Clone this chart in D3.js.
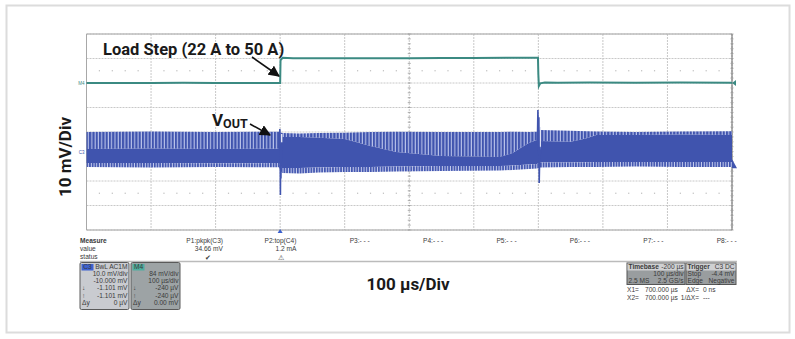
<!DOCTYPE html>
<html><head><meta charset="utf-8">
<script src="https://cdn.jsdelivr.net/npm/d3@7"></script>
<style>
html,body{margin:0;padding:0;background:#fff;}
svg{display:block;}
.sm{font-family:"Liberation Sans",Arial,sans-serif;font-size:6.6px;fill:#3a3a3a;}
.big{font-family:Roboto,"Noto Sans",sans-serif;font-weight:700;fill:#1a1a1a;}
</style></head><body>
<svg id="c" width="795" height="339"></svg>
<script>
// ---------- data ----------
const timeDomain = [-300, 700];          // µs, 100 µs/div, 10 div
const voltDomain = [-40, 40];            // mV, 10 mV/div, 8 div (display)
const ampDomain  = [-146, 78];           // A (load current trace M4)

// load current (A) vs time (µs)
const loadT = [-300, -250, -200, -150, -100, -50, -1, 0, 0.6, 4, 20, 60, 100, 150, 200, 250, 300, 350, 399.4, 400, 400.8, 403, 410, 430, 480, 550, 620, 700];
const loadA = [22, 22.1, 21.9, 22.2, 22.0, 22.1, 22.0, 22.0, 48.0, 50.9, 50.4, 50.2, 50.3, 50.2, 50.4, 50.6, 50.7, 50.8, 50.9, 32.0, 18.6, 21.6, 22.6, 22.4, 22.5, 22.4, 22.6, 22.3];

// VOUT envelope (mV, relative to screen centre) vs time (µs)
const vT       = [-300, -200, -100, -2, 3, 30, 60, 100, 140, 180, 250, 340, 360, 385, 398, 402, 450, 475, 490, 550, 620, 700];
const vUpper   = [0, 0.2, 0, 0.1, -0.4, -0.6, -0.4, -0.3, 0, 0.1, 0, 0, 0.1, 0, 0.1, 0.8, 0.5, 0.3, 0.2, 0, 0.2, 0.3];
const vCoreTop = [-6.9, -6.7, -6.9, -6.8, -2.0, -2.0, -2.3, -2.9, -5.7, -8.2, -9.8, -10.2, -8.6, -4.5, -3.3, -3.7, -4.0, -2.5, -1.2, -1.2, -1.0, -1.2];
const vCoreBot = [-12.7, -12.7, -12.8, -12.7, -14.7, -14.7, -14.5, -14.3, -14.3, -14.1, -13.9, -13.9, -13.7, -13.3, -13.1, -12.4, -12.4, -12.3, -12.2, -12.2, -12.2, -12.2];
const vLower   = [-14.3, -14.5, -14.3, -14.4, -16.7, -16.9, -16.5, -16.3, -16.3, -16.1, -15.9, -15.7, -15.5, -15.1, -14.9, -14.5, -14.3, -14.3, -14.3, -14.1, -14.3, -14.3];

// transient spikes at load step and load release
const stepT  = [-1.5, -0.5, 0, 0.4, 0.8, 1.2, 1.8, 2.6];
const stepV  = [-7, 1.2, -6, -25.7, -10, -19, -6, -12];
const relT   = [398.5, 399.3, 399.8, 400.3, 400.8, 401.3, 401.8, 402.5, 403.3];
const relV   = [-5, 9.0, 3, -9, 6, -20.8, -14, -6, -9];
const gapT   = [2.2, 402.8];
const gapTop = [-0.8, 2.0];
const gapBot = [-4.2, -7.5];

// measurement panel
const measHead  = ["P1:pkpk(C3)", "P2:top(C4)", "P3:- - -", "P4:- - -", "P5:- - -", "P6:- - -", "P7:- - -", "P8:- - -"];
const measValue = ["34.66 mV", "1.2 mA", "", "", "", "", "", ""];
const measStat  = ["✔", "⚠", "", "", "", "", "", ""];
const c3Lines = ["10.0 mV/div", "-10.000 mV", "-1.101 mV", "-1.101 mV", "0 µV"];
const m4Lines = ["84 mV/div", "100 µs/div", "-240 µV", "-240 µV", "0.00 mV"];
const sideMarks = ["", "", "↓", "↑", "Δy"];

// ---------- drawing ----------
const svg = d3.select("#c");
const L = 86.5, R = 732, T = 34, B = 230;
const x  = d3.scaleLinear().domain(timeDomain).range([L, R]);
const yV = d3.scaleLinear().domain(voltDomain).range([B, T]);
const yA = d3.scaleLinear().domain(ampDomain).range([B, T]);
const blue = "#4054ae", teal = "#3b8a82";

// outer frame
svg.append("rect").attr("x", 6.5).attr("y", 5.5).attr("width", 783).attr("height", 327)
  .attr("fill", "none").attr("stroke", "#dcdcdc").attr("stroke-width", 2);

// defs: stripe patterns
const defs = svg.append("defs");
const p1 = defs.append("pattern").attr("id", "stripe").attr("patternUnits", "userSpaceOnUse")
  .attr("width", 3.3).attr("height", 10);
p1.append("rect").attr("width", 3.3).attr("height", 10).attr("fill", "#bac3ea");
p1.append("rect").attr("width", 2.2).attr("height", 10).attr("fill", blue);
const p2 = defs.append("pattern").attr("id", "fuzz").attr("patternUnits", "userSpaceOnUse")
  .attr("width", 2.7).attr("height", 10);
p2.append("rect").attr("width", 2.7).attr("height", 10).attr("fill", "#c9d0ef");
p2.append("rect").attr("width", 1.7).attr("height", 10).attr("fill", blue);

// grid
const g = svg.append("g");
const xt = d3.range(timeDomain[0], timeDomain[1] + 1, 100);
const yt = d3.range(voltDomain[0], voltDomain[1] + 1, 10);
g.selectAll(".vg").data(xt).join("line")
  .attr("x1", d => x(d)).attr("x2", d => x(d)).attr("y1", T).attr("y2", B)
  .attr("stroke", "#c8c8c8").attr("stroke-width", 1).attr("stroke-dasharray", "2,1");
g.selectAll(".hg").data(yt).join("line")
  .attr("x1", L).attr("x2", R).attr("y1", d => yV(d)).attr("y2", d => yV(d))
  .attr("stroke", "#c8c8c8").attr("stroke-width", 1).attr("stroke-dasharray", "2,1");
// border
g.append("path").attr("d", `M${R},${T}H${L}V${B}H${R}`).attr("fill", "none").attr("stroke", "#a8a8a8");
g.append("line").attr("x1", R).attr("x2", R).attr("y1", T).attr("y2", B).attr("stroke", "#666").attr("stroke-width", 1);

// minor ticks on centre vertical and right edge
const minorY = d3.range(voltDomain[0], voltDomain[1] + 0.01, 2);
[200, 700].forEach(t => {
  g.selectAll(null).data(minorY).join("line")
    .attr("x1", x(t) - 1.5).attr("x2", x(t) + 1.5).attr("y1", d => yV(d)).attr("y2", d => yV(d))
    .attr("stroke", "#999").attr("stroke-width", 0.8);
});
// dotted marker rows
const dotX = d3.range(timeDomain[0], timeDomain[1], 20).filter(d => (d - timeDomain[0]) % 100 !== 0);
[25, -25].forEach(v => {
  g.selectAll(null).data(dotX).join("rect")
    .attr("x", d => x(d) - 0.6).attr("y", yV(v) - 0.6).attr("width", 1.2).attr("height", 1.2).attr("fill", "#bdbdbd");
});

// VOUT band
const vData = vT.map((t, i) => ({t, up: vUpper[i], ct: vCoreTop[i], cb: vCoreBot[i], lo: vLower[i]}));
svg.append("path").datum(vData).attr("fill", "url(#stripe)")
  .attr("d", d3.area().x(d => x(d.t)).y0(d => yV(d.ct)).y1(d => yV(d.up)));
svg.append("path").datum(vData).attr("fill", blue)
  .attr("d", d3.area().x(d => x(d.t)).y0(d => yV(d.cb)).y1(d => yV(d.ct)));
svg.append("path").datum(vData).attr("fill", "url(#fuzz)")
  .attr("d", d3.area().x(d => x(d.t)).y0(d => yV(d.lo)).y1(d => yV(d.cb)));
// notches
svg.selectAll(".gap").data(gapT).join("line")
  .attr("x1", d => x(d)).attr("x2", d => x(d))
  .attr("y1", (d, i) => yV(gapTop[i])).attr("y2", (d, i) => yV(gapBot[i]))
  .attr("stroke", "#e4e7f5").attr("stroke-width", 1.6);
// spikes
const ln = d3.line().x(d => x(d[0])).y(d => yV(d[1]));
[[stepT, stepV], [relT, relV]].forEach(([ts, vs]) => {
  svg.append("path").datum(ts.map((t, i) => [t, vs[i]])).attr("d", ln)
    .attr("fill", "none").attr("stroke", blue).attr("stroke-width", 1.6);
});

// load current trace
svg.append("path").datum(loadT.map((t, i) => [t, loadA[i]]))
  .attr("d", d3.line().x(d => x(d[0])).y(d => yA(d[1])))
  .attr("fill", "none").attr("stroke", teal).attr("stroke-width", 2);

// channel markers
svg.append("text").attr("x", L - 2).attr("y", yA(22) + 1.5).attr("text-anchor", "end")
  .attr("font-family", "Liberation Sans").attr("font-size", 4.5).attr("fill", teal).text("M4");
svg.append("text").attr("x", L - 2).attr("y", yV(-8.5) + 1.5).attr("text-anchor", "end")
  .attr("font-family", "Liberation Sans").attr("font-size", 4.5).attr("fill", blue).text("C3");
svg.append("path").attr("d", `M${R + 4},${yA(22) - 3}L${R},${yA(22)}L${R + 4},${yA(22) + 3}Z`).attr("fill", teal);
svg.append("path").attr("d", `M${R},${yV(-12.2) - 3}L${R + 5},${yV(-14.8)}L${R},${yV(-14.8)}Z`).attr("fill", blue);
// trigger marker
svg.append("path").attr("d", `M${x(0) - 2.5},${B + 3}L${x(0)},${B - 1}L${x(0) + 2.5},${B + 3}Z`).attr("fill", "#3a5fcd");

// annotations
svg.append("text").attr("class", "big").attr("x", 103).attr("y", 55).attr("font-size", 16.5)
  .text("Load Step (22 A to 50 A)");
const vt = svg.append("text").attr("class", "big").attr("x", 212).attr("y", 126).attr("font-size", 17);
vt.append("tspan").text("V");
vt.append("tspan").attr("font-size", 12.5).attr("dy", 2).text("OUT");
defs.append("marker").attr("id", "ah").attr("viewBox", "0 0 10 10").attr("refX", 9).attr("refY", 5)
  .attr("markerWidth", 7).attr("markerHeight", 7).attr("orient", "auto")
  .append("path").attr("d", "M0,0L10,5L0,10Z").attr("fill", "#111");
svg.append("line").attr("x1", 252).attr("y1", 57).attr("x2", 279).attr("y2", 76)
  .attr("stroke", "#111").attr("stroke-width", 1.6).attr("marker-end", "url(#ah)");
svg.append("line").attr("x1", 250).attr("y1", 124).attr("x2", 270).attr("y2", 135)
  .attr("stroke", "#111").attr("stroke-width", 1.6).attr("marker-end", "url(#ah)");

svg.append("text").attr("class", "big").attr("font-size", 17).attr("text-anchor", "middle")
  .attr("transform", "translate(71,157) rotate(-90)").text("10 mV/Div");
svg.append("text").attr("class", "big").attr("font-size", 17).attr("text-anchor", "middle")
  .attr("x", 408).attr("y", 290).text("100 µs/Div");

// measurement table
const mp = svg.append("g");
mp.append("text").attr("class", "sm").attr("x", 80).attr("y", 243).attr("font-weight", 700).text("Measure");
mp.append("text").attr("class", "sm").attr("x", 80).attr("y", 251).text("value");
mp.append("text").attr("class", "sm").attr("x", 80).attr("y", 259).text("status");
const mx = i => 223 + i * 73.4;
mp.selectAll(".mh").data(measHead).join("text").attr("class", "sm")
  .attr("x", (d, i) => mx(i)).attr("y", 243).attr("text-anchor", "end").text(d => d);
mp.selectAll(".mv").data(measValue).join("text").attr("class", "sm")
  .attr("x", (d, i) => mx(i)).attr("y", 251).attr("text-anchor", "end").text(d => d);
mp.selectAll(".ms").data(measStat).join("text").attr("class", "sm")
  .attr("x", (d, i) => mx(i) - 15).attr("y", 259.5).attr("text-anchor", "middle").attr("font-size", 6).text(d => d);
mp.append("line").attr("x1", 80).attr("x2", 737).attr("y1", 261.5).attr("y2", 261.5).attr("stroke", "#bbb").attr("stroke-width", 1.5);

// channel boxes
function chanBox(x0, fill, lab, labFill, head, lines) {
  const b = svg.append("g");
  b.append("rect").attr("x", x0).attr("y", 262.5).attr("width", 49).attr("height", 47).attr("rx", 1.5)
    .attr("fill", fill).attr("stroke", "#5a5a5a").attr("stroke-width", 1);
  b.append("rect").attr("x", x0 + 1.5).attr("y", 264).attr("width", 12).attr("height", 6.5).attr("fill", labFill);
  b.append("text").attr("class", "sm").attr("x", x0 + 7.5).attr("y", 269.2).attr("text-anchor", "middle")
    .attr("font-size", 5.2).attr("fill", "#111").text(lab);
  b.append("text").attr("class", "sm").attr("x", x0 + 47.5).attr("y", 269.2).attr("text-anchor", "end")
    .attr("font-size", 4.6).text(head);
  b.selectAll(".ln").data(lines).join("text").attr("class", "sm")
    .attr("x", x0 + 47.5).attr("y", (d, i) => 276 + i * 7.2).attr("text-anchor", "end").attr("font-size", 5.8).text(d => d);
  b.selectAll(".sm2").data(sideMarks).join("text").attr("class", "sm")
    .attr("x", x0 + 2).attr("y", (d, i) => 276 + i * 7.2).attr("font-size", 5.8).text(d => d);
}
chanBox(80, "#c9cbd0", "C3", "#3f63d0", "BwL AC1M", c3Lines);
chanBox(131, "#9da3a5", "M4", "#4fae9f", "", m4Lines);

// timebase / trigger boxes
function infoBox(x0, w, rows) {
  const b = svg.append("g");
  b.append("rect").attr("x", x0).attr("y", 263).attr("width", w).attr("height", 21.5)
    .attr("fill", "#999d9f").attr("stroke", "#555").attr("stroke-width", 1);
  b.append("rect").attr("x", x0 + 0.5).attr("y", 263.5).attr("width", w - 1).attr("height", 7)
    .attr("fill", "#cfd0d2");
  rows.forEach((r, i) => {
    const yy = 269.3 + i * 7;
    b.append("text").attr("class", "sm").attr("x", x0 + 1.5).attr("y", yy).attr("font-size", 5.2)
      .attr("font-weight", i === 0 ? 700 : 400).text(r[0]);
    b.append("text").attr("class", "sm").attr("x", x0 + w - 1.5).attr("y", yy).attr("font-size", 5.2)
      .attr("text-anchor", "end").text(r[1]);
  });
}
infoBox(627, 58, [["Timebase", "-200 µs"], ["", "100 µs/div"], ["2.5 MS", "2.5 GS/s"]]);
infoBox(686, 50, [["Trigger", "C3 DC"], ["Stop", "-4.4 mV"], ["Edge", "Negative"]]);
const cur = [["X1=", "700.000 µs", "ΔX=", "0 ns"], ["X2=", "700.000 µs", "1/ΔX=", "---"]];
cur.forEach((r, i) => {
  const yy = 292 + i * 8;
  svg.append("text").attr("class", "sm").attr("x", 627).attr("y", yy).attr("font-size", 5.4).text(r[0]);
  svg.append("text").attr("class", "sm").attr("x", 645).attr("y", yy).attr("font-size", 5.4).text(r[1]);
  svg.append("text").attr("class", "sm").attr("x", 699).attr("y", yy).attr("font-size", 5.4).attr("text-anchor", "end").text(r[2]);
  svg.append("text").attr("class", "sm").attr("x", 703).attr("y", yy).attr("font-size", 5.4).text(r[3]);
});
</script>
</body></html>
